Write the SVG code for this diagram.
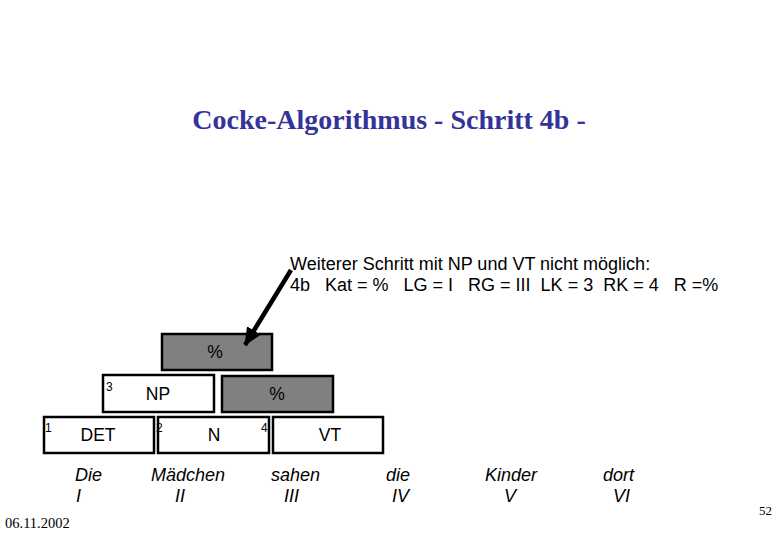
<svg xmlns="http://www.w3.org/2000/svg" width="780" height="540" viewBox="0 0 780 540">
<defs>
<style>
.box{fill:#ffffff;stroke:#000;stroke-width:2.5}
.gbox{fill:#808080;stroke:#000;stroke-width:2.5}
.lbl{font-family:"Liberation Sans",Arial,sans-serif;font-size:17.5px;fill:#000;text-anchor:middle}
.num{font-family:"Liberation Sans",Arial,sans-serif;font-size:12px;fill:#000}
.word{font-family:"Liberation Sans",Arial,sans-serif;font-size:18px;font-style:italic;fill:#000}
.note{font-family:"Liberation Sans",Arial,sans-serif;font-size:18px;fill:#000}
.title{font-family:"Liberation Serif","Times New Roman",serif;font-size:28px;font-weight:bold;fill:#333399;text-anchor:middle}
.small{font-family:"Liberation Serif","Times New Roman",serif;font-size:14.5px;fill:#000}
</style>
<marker id="ah" markerUnits="userSpaceOnUse" markerWidth="20" markerHeight="16" refX="17" refY="8" orient="auto">
<path d="M0,0 L18,8 L0,16 z" fill="#000"/>
</marker>
</defs>
<rect width="780" height="540" fill="#fff"/>
<text class="title" x="389" y="129">Cocke-Algorithmus - Schritt 4b -</text>

<g id="node-pct-top"><rect class="gbox" x="162" y="334" width="110" height="36"/><text class="lbl" x="215" y="358">%</text></g>
<g id="node-np"><rect class="box" x="103" y="375" width="111" height="37"/><text class="num" x="106" y="391">3</text><text class="lbl" x="158" y="400">NP</text></g>
<g id="node-pct"><rect class="gbox" x="222" y="376" width="111" height="36"/><text class="lbl" x="277" y="400">%</text></g>
<g id="node-det"><rect class="box" x="44" y="417" width="110" height="36"/><text class="num" x="45" y="432">1</text><text class="lbl" x="98" y="441">DET</text></g>
<g id="node-n"><rect class="box" x="158" y="417" width="111" height="36"/><text class="num" x="156" y="432">2</text><text class="num" x="261" y="432">4</text><text class="lbl" x="214" y="441">N</text></g>
<g id="node-vt"><rect class="box" x="273" y="417" width="110" height="36"/><text class="lbl" x="330" y="441">VT</text></g>

<g id="words">
<text class="word" x="75" y="481">Die</text><text class="word" x="76" y="502">I</text>
<text class="word" x="151" y="481">Mädchen</text><text class="word" x="175" y="502">II</text>
<text class="word" x="271" y="481">sahen</text><text class="word" x="284" y="502">III</text>
<text class="word" x="386" y="481">die</text><text class="word" x="392" y="502">IV</text>
<text class="word" x="485" y="481">Kinder</text><text class="word" x="504" y="502">V</text>
<text class="word" x="603" y="481">dort</text><text class="word" x="613" y="502">VI</text>
</g>

<g id="note">
<text class="note" x="290" y="270">Weiterer Schritt mit NP und VT nicht möglich:</text>
<text class="note" x="290" y="291" xml:space="preserve">4b   Kat = %   LG = I   RG = III  LK = 3  RK = 4   R =%</text>
</g>

<g id="connectors">
<line x1="291" y1="270" x2="245" y2="345" stroke="#000" stroke-width="4.5" marker-end="url(#ah)"/>
</g>

<text class="small" x="5" y="528">06.11.2002</text>
<text class="small" x="759" y="515" style="font-size:13px">52</text>
</svg>
